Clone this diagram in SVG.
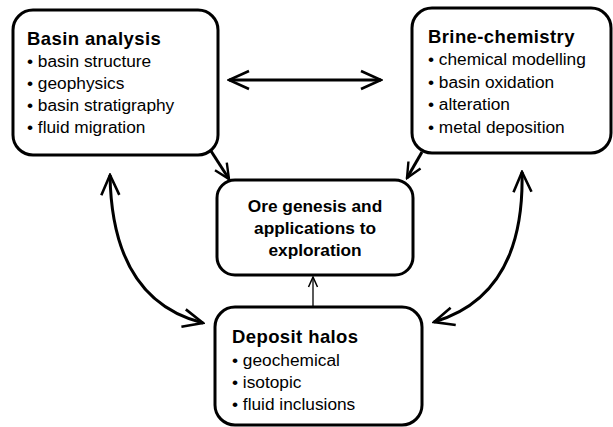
<svg xmlns="http://www.w3.org/2000/svg" width="613" height="427" viewBox="0 0 613 427">
<style>
.box{fill:#fff;stroke:#000;stroke-width:3}
.h{font-family:"Liberation Sans",Arial,sans-serif;font-weight:bold;font-size:18.5px;letter-spacing:0.4px;fill:#000}
.t{font-family:"Liberation Sans",Arial,sans-serif;font-size:17.3px;fill:#000}
.c{font-family:"Liberation Sans",Arial,sans-serif;font-weight:bold;font-size:17.3px;fill:#000;text-anchor:middle}
.ln{fill:none;stroke:#000;stroke-width:3}
.thin{fill:none;stroke:#000;stroke-width:1.3}
</style>
<defs>
<marker id="big" viewBox="0 0 24 24" refX="22" refY="12" markerWidth="24" markerHeight="24" markerUnits="userSpaceOnUse" orient="auto-start-reverse">
<path d="M2,3 L22,12 L2,21" fill="none" stroke="#000" stroke-width="2.6"/>
</marker>
<marker id="mid" viewBox="0 0 20 20" refX="18" refY="10" markerWidth="20" markerHeight="20" markerUnits="userSpaceOnUse" orient="auto-start-reverse">
<path d="M3,3 L18,10 L3,17" fill="none" stroke="#000" stroke-width="2.4"/>
</marker>
<marker id="small" viewBox="0 0 12 12" refX="11" refY="6" markerWidth="12" markerHeight="12" markerUnits="userSpaceOnUse" orient="auto">
<path d="M1,1.5 L11,6 L1,10.5" fill="none" stroke="#000" stroke-width="1.5"/>
</marker>
</defs>
<g id="connectors">
<line class="ln" x1="229" y1="80" x2="381" y2="80" marker-start="url(#big)" marker-end="url(#big)"/>
<path class="ln" d="M110,175 Q112,300 203,323" marker-start="url(#big)" marker-end="url(#big)"/>
<path class="ln" d="M522,172 Q525,295 434,322" marker-start="url(#big)" marker-end="url(#big)"/>
<line class="ln" x1="211" y1="151" x2="229" y2="179" marker-end="url(#mid)"/>
<line class="ln" x1="422" y1="152" x2="407" y2="178" marker-end="url(#mid)"/>
<line class="thin" x1="313" y1="307" x2="313" y2="277" marker-end="url(#small)"/>
</g>
<g id="basin">
<rect class="box" x="13" y="10" width="205" height="145" rx="20"/>
<text class="h" x="27" y="45">Basin analysis</text>
<text class="t" x="27" y="67">• basin structure</text>
<text class="t" x="27" y="89">• geophysics</text>
<text class="t" x="27" y="111">• basin stratigraphy</text>
<text class="t" x="27" y="133">• fluid migration</text>
</g>
<g id="brine">
<rect class="box" x="412" y="8" width="199" height="145" rx="20"/>
<text class="h" x="428" y="43">Brine-chemistry</text>
<text class="t" x="428" y="65">• chemical modelling</text>
<text class="t" x="428" y="88">• basin oxidation</text>
<text class="t" x="428" y="110">• alteration</text>
<text class="t" x="428" y="133">• metal deposition</text>
</g>
<g id="ore">
<rect class="box" x="217" y="180" width="196" height="95" rx="18"/>
<text class="c" x="315" y="212">Ore genesis and</text>
<text class="c" x="315" y="234">applications to</text>
<text class="c" x="315" y="256">exploration</text>
</g>
<g id="deposit">
<rect class="box" x="215" y="307" width="207" height="118" rx="20"/>
<text class="h" x="232" y="343">Deposit halos</text>
<text class="t" x="232" y="366">• geochemical</text>
<text class="t" x="232" y="388">• isotopic</text>
<text class="t" x="232" y="410">• fluid inclusions</text>
</g>
</svg>
